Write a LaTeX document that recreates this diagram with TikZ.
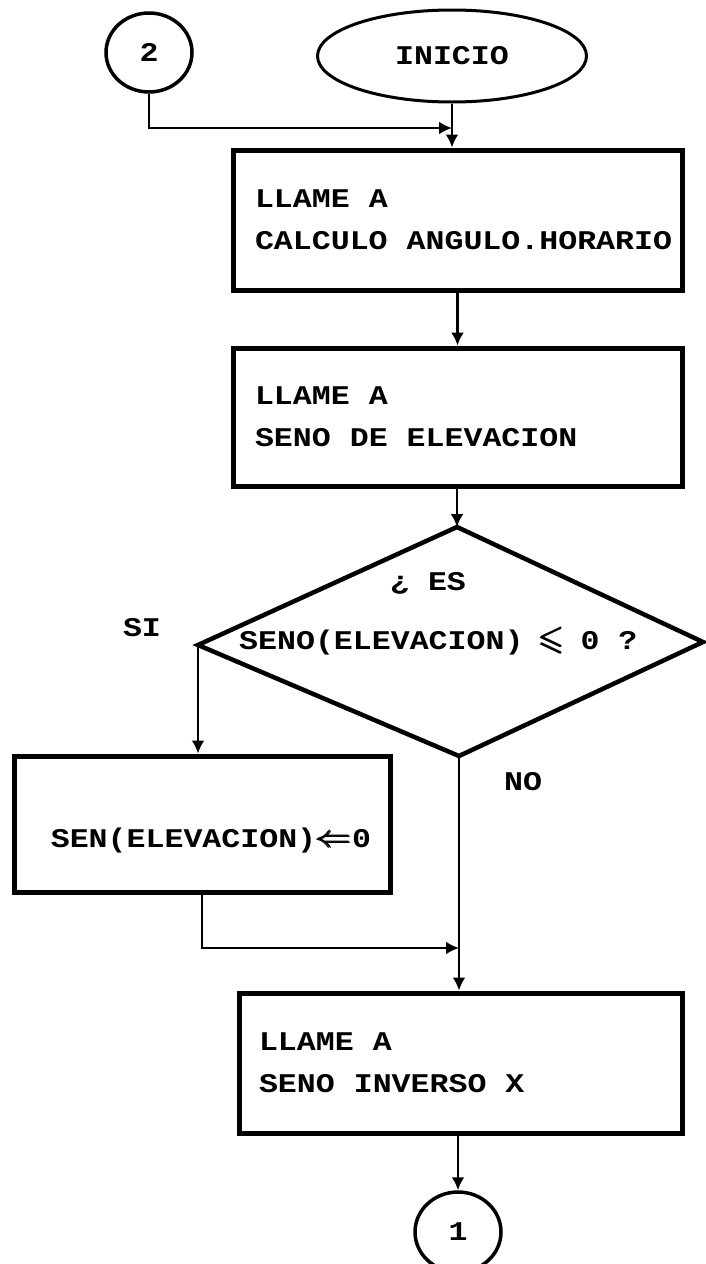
\documentclass[tikz,border=0pt]{standalone}
\usepackage{amsmath,amssymb,graphicx}
\usepackage{fontspec}
\newfontfamily\tw[FakeStretch=1.17]{Liberation Mono}
\newcommand\gap{\hspace*{19pt}}
\usetikzlibrary{arrows.meta,shapes.geometric}
\tikzset{
  txt/.style={font={\tw\bfseries\fontsize{27}{42}\selectfont}, inner sep=0pt},
  procbox/.style={txt, draw, line width=5pt, rectangle, align=left, inner xsep=22pt, text width=405pt},
  plainbox/.style={draw, line width=5pt, rectangle, inner sep=0pt},
  term/.style={txt, draw, ellipse, line width=3pt, inner sep=0pt},
  conn/.style={line width=2.5pt, -{Latex[length=13pt,width=13pt]}},
  decision/.style={line width=4.5pt, line join=miter}
}
\begin{document}
\begin{tikzpicture}[x=1pt,y=-1pt]
\useasboundingbox (0,0) rectangle (705,1264);
\fill[white] (0,0) rectangle (705,1264);

% terminals / connectors
\node[term, line width=3.5pt, minimum width=86pt, minimum height=79pt] (c2) at (149,52.5) {2};
\node[term, minimum width=269pt, minimum height=92pt] (ini) at (452,56) {INICIO};

% process boxes
\node[procbox, minimum height=140pt] (b1) at (457.5,220) {\mbox{LLAME\gap A}\\\mbox{CALCULO\gap ANGULO.HORARIO}};
\node[procbox, minimum height=138pt] (b2) at (457.5,417) {\mbox{LLAME\gap A}\\\mbox{SENO\gap DE\gap ELEVACION}};
\node[plainbox, minimum width=376pt, minimum height=136pt] (b3) at (202,824) {};
\node[txt, anchor=base] (t3) at (211,847) {SEN(ELEVACION)\makebox[36pt]{\scalebox{1.45}[1.25]{$\pmb{\Leftarrow}$}}0};
\node[procbox, text width=403pt, inner xsep=20pt, minimum height=140pt] (b4) at (460.5,1063) {\mbox{LLAME\gap A}\\\mbox{SENO\gap INVERSO\gap X}};
\node[term, line width=3.5pt, minimum width=86pt, minimum height=80pt] (c1) at (458,1232) {1};

% decision diamond
\coordinate (dt) at (457,527);
\coordinate (dl) at (198,645);
\coordinate (dr) at (703,642);
\coordinate (db) at (459,756);
\draw[decision] (dt) -- (dr) -- (db) -- (dl) -- cycle;
\node[txt] (q1) at (428,583) {¿\gap ES};
\node[txt, anchor=base west] (q2) at (239,649) {SENO(ELEVACION)\gap\makebox[19pt]{\scalebox{1.25}{$\pmb{\leqslant}$}}\gap 0\gap ?};

% branch labels
\node[txt] (si) at (142,628) {SI};
\node[txt] (no) at (523,782) {NO};

% junctions
\coordinate (j1) at (452,128);
\coordinate (j2) at (459,948);

% connectors
\draw[conn] (c2.south) |- (j1);
\draw[conn] (ini.south) -- (ini.south |- b1.north);
\draw[conn] (b1.south) -- (b2.north);
\draw[conn] (b2.south -| dt) -- (dt);
\draw[conn] (dl) -- (dl |- b3.north);
\draw[conn] (db) -- (db |- b4.north);
\draw[conn] (b3.south) |- (j2);
\draw[conn] (b4.south -| c1) -- (c1.north);
\end{tikzpicture}
\end{document}
